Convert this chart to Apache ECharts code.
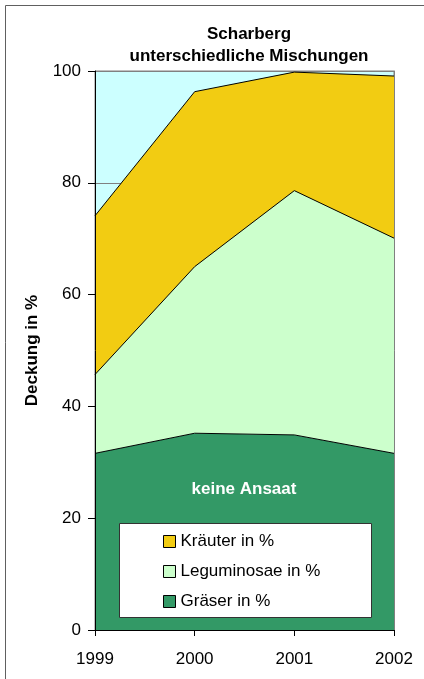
<!DOCTYPE html>
<html>
<head>
<meta charset="utf-8">
<script src="https://cdn.jsdelivr.net/npm/echarts@6/dist/echarts.min.js"></script>
<style>
  html, body { margin: 0; padding: 0; background: #fff; }
  #chart { width: 424px; height: 679px; }
</style>
</head>
<body>
<div id="chart"></div>
<script>
const years = ["1999", "2000", "2001", "2002"];
const graeser = [31.6, 35.2, 34.9, 31.6];
const leguminosae = [14.1, 29.8, 43.7, 38.5];
const kraeuter = [28.4, 31.3, 21.2, 29.0];
const yTicks = [0, 20, 40, 60, 80, 100];

const font = "'Liberation Sans', Arial, sans-serif";

const chart = echarts.init(document.getElementById("chart"));

const areaSeries = (name, values, color) => ({
  name: name,
  type: "line",
  stack: "total",
  data: values,
  symbol: "none",
  lineStyle: { color: "#000", width: 1 },
  areaStyle: { color: color, opacity: 1 },
  itemStyle: { color: color, borderColor: "#000", borderWidth: 1 },
  emphasis: { disabled: true },
  z: 2,
});

chart.setOption({
  animation: false,
  title: {
    text: "Scharberg\nunterschiedliche Mischungen",
    left: 244,
    top: 18,
    textAlign: "center",
    textStyle: {
      fontFamily: font,
      fontWeight: "bold",
      fontSize: 17,
      lineHeight: 22,
      color: "#000",
    },
  },
  grid: {
    left: 95,
    right: 30,
    top: 71,
    bottom: 49,
    show: true,
    backgroundColor: "#CCFFFF",
    borderColor: "#808080",
    borderWidth: 1,
  },
  legend: {
    orient: "vertical",
    left: 163,
    top: 533,
    padding: 0,
    itemWidth: 12,
    itemHeight: 12,
    itemGap: 13,
    icon: "rect",
    data: ["Kräuter in %", "Leguminosae in %", "Gräser in %"],
    itemStyle: { borderColor: "#000", borderWidth: 1 },
    textStyle: { fontFamily: font, fontSize: 17, color: "#000" },
    z: 6,
  },
  xAxis: {
    type: "category",
    data: years,
    boundaryGap: false,
    z: 10,
    axisLine: { lineStyle: { color: "#000", width: 1 } },
    axisTick: { show: true, length: 6, lineStyle: { color: "#000" } },
    axisLabel: { fontFamily: font, fontSize: 17, color: "#000", margin: 21 },
  },
  yAxis: [
    {
      // labels, ticks and axis line, drawn above the areas
      type: "value",
      min: yTicks[0],
      max: yTicks[yTicks.length - 1],
      interval: 20,
      z: 10,
      name: "Deckung in %",
      nameLocation: "middle",
      nameGap: 54,
      nameTextStyle: { fontFamily: font, fontSize: 17, fontWeight: "bold", color: "#000" },
      axisLine: { show: true, lineStyle: { color: "#000", width: 1 } },
      axisTick: { show: true, length: 7, lineStyle: { color: "#000" } },
      axisLabel: { fontFamily: font, fontSize: 17, color: "#000", margin: 14 },
      splitLine: { show: false },
    },
    {
      // gridlines only, kept under the areas
      type: "value",
      position: "left",
      min: yTicks[0],
      max: yTicks[yTicks.length - 1],
      interval: 20,
      axisLine: { show: false },
      axisTick: { show: false },
      axisLabel: { show: false },
      splitLine: { show: true, lineStyle: { color: "#808080", width: 1 } },
    },
    {
      type: "value",
      position: "right",
      min: 0,
      max: 100,
      z: 10,
      axisLine: { show: true, lineStyle: { color: "#808080", width: 1 } },
      axisTick: { show: false },
      axisLabel: { show: false },
      splitLine: { show: false },
    },
  ],
  graphic: [
    {
      type: "rect",
      shape: { x: 5.5, y: 5.5, width: 600, height: 800 },
      style: { fill: "none", stroke: "#606060", lineWidth: 1 },
      z: 1,
    },
    {
      type: "rect",
      shape: { x: 119.5, y: 523.5, width: 252, height: 94 },
      style: { fill: "#fff", stroke: "#333", lineWidth: 1 },
      z: 5,
    },
    {
      type: "text",
      x: 244,
      y: 489,
      style: {
        text: "keine Ansaat",
        fill: "#fff",
        font: "bold 17px " + font,
        textAlign: "center",
        textVerticalAlign: "middle",
      },
      z: 5,
    },
  ],
  series: [
    areaSeries("Gräser in %", graeser, "#339966"),
    areaSeries("Leguminosae in %", leguminosae, "#CCFFCC"),
    areaSeries("Kräuter in %", kraeuter, "#F2CC12"),
  ],
});
</script>
</body>
</html>
